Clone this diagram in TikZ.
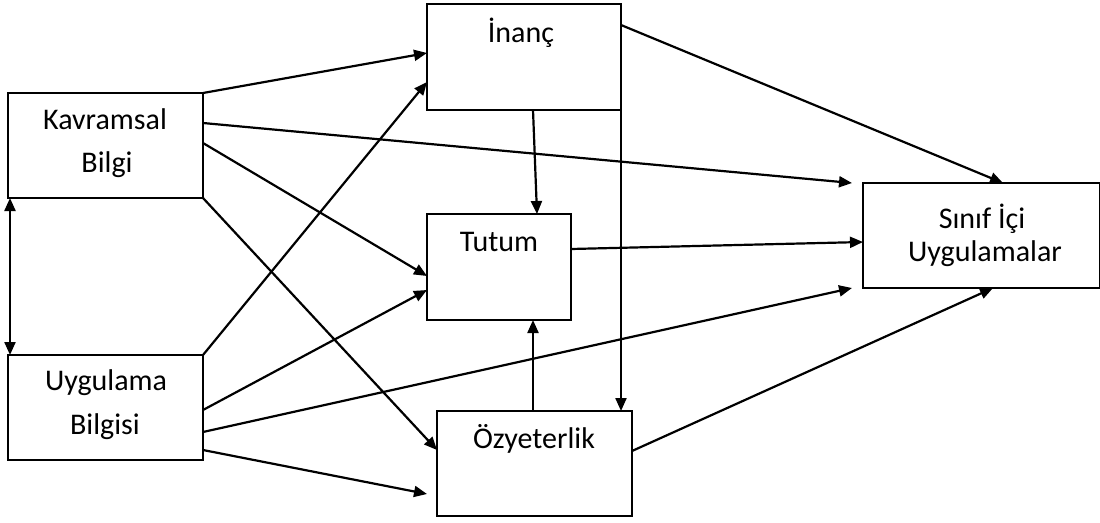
\documentclass[tikz,border=0pt]{standalone}
\usepackage{fontspec}
\setmainfont{Carlito}
\usetikzlibrary{arrows.meta}
\begin{document}
\begin{tikzpicture}[x=1pt,y=-1pt,
  box/.style={draw,line width=2.5pt,inner sep=0pt,outer sep=0pt,anchor=north west},
  lbl/.style={anchor=base,inner sep=0pt,font=\fontsize{30}{36}\selectfont},
  link/.style={line width=2.2pt,-{Triangle[length=13pt,width=11pt]}},
  both/.style={line width=2.2pt,{Triangle[length=13pt,width=11pt]}-{Triangle[length=13pt,width=11pt]}}]
\useasboundingbox (0,0) rectangle (1100,522);

% boxes
\node[box,minimum width=195pt,minimum height=105pt] (kb) at (8,93) {};
\node[box,minimum width=195pt,minimum height=105pt] (ub) at (8,355) {};
\node[box,minimum width=194pt,minimum height=106pt] (in) at (427,4) {};
\node[box,minimum width=144pt,minimum height=106pt] (tu) at (427,214) {};
\node[box,minimum width=195pt,minimum height=105pt] (oz) at (437,411) {};
\node[box,minimum width=237pt,minimum height=105pt] (si) at (863,183) {};

% labels
\node[lbl] (kb1) at (105,129) {Kavramsal};
\node[lbl] (kb2) at (107,172) {Bilgi};
\node[lbl] (ub1) at (106,390) {Uygulama};
\node[lbl] (ub2) at (105,434) {Bilgisi};
\node[lbl] (in1) at (521,42) {İnanç};
\node[lbl] (tu1) at (499,251) {Tutum};
\node[lbl] (oz1) at (534,448) {Özyeterlik};
\node[lbl] (si1) at (982,228) {Sınıf İçi};
\node[lbl] (si2) at (985,261) {Uygulamalar};

% connectors
\draw[link] (kb.north east) -- ([yshift=-49pt]in.north west);
\draw[link] (ub.north east) -- ([yshift=-78pt]in.north west);
\draw[link] ([yshift=-30pt]kb.north east) -- ([xshift=-11pt]si.north west);
\draw[link] ([yshift=-50pt]kb.north east) -- ([yshift=-62pt]tu.north west);
\draw[link] (kb.south east) -- ([yshift=-39pt]oz.north west);
\draw[link] ([yshift=-55pt]ub.north east) -- ([yshift=-76pt]tu.north west);
\draw[link] ([yshift=-77pt]ub.north east) -- ([xshift=-11pt]si.south west);
\draw[link] ([yshift=-95pt]ub.north east) -- ([xshift=-10pt,yshift=-83pt]oz.north west);
\draw[link] ([xshift=106pt]in.south west) -- ([xshift=110pt]tu.north west);
\draw[link] ([yshift=-48pt]in.north east) -- ([xshift=-11pt]oz.north east);
\draw[link] ([xshift=96pt]oz.north west) -- ([xshift=106pt]tu.south west);
\draw[link] ([yshift=-35pt]tu.north east) -- ([yshift=-59pt]si.north west);
\draw[link] ([yshift=-21pt]in.north east) -- ([xshift=140pt]si.north west);
\draw[link] ([yshift=-40pt]oz.north east) -- ([xshift=130pt]si.south west);
\draw[both] ([xshift=2pt]kb.south west) -- ([xshift=2pt]ub.north west);
\end{tikzpicture}
\end{document}
